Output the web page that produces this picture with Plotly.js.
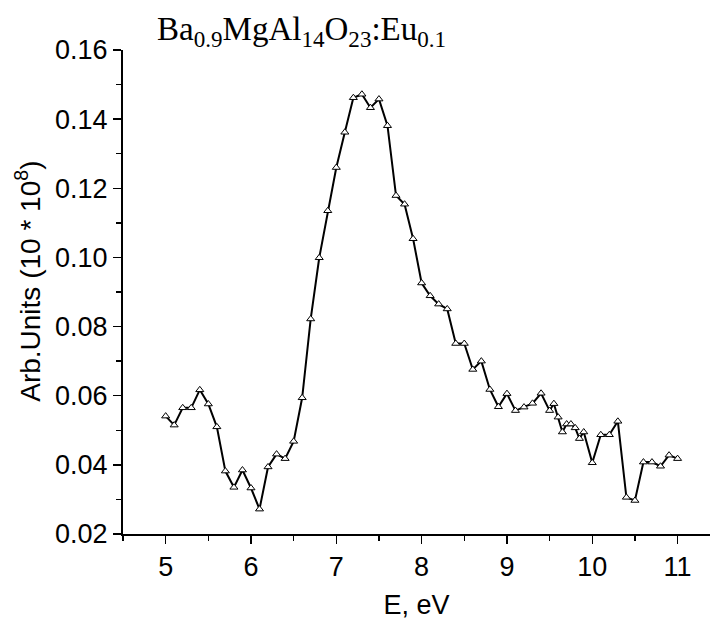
<!DOCTYPE html>
<html>
<head>
<meta charset="utf-8">
<script src="https://cdn.plot.ly/plotly-3.0.1.min.js"></script>
<style>
html,body{margin:0;padding:0;background:#ffffff;}
#chart{width:710px;height:626px;}
</style>
</head>
<body>
<div id="chart"></div>
<script>
// Photon energy (eV)
const energy = [
  5.0, 5.1, 5.2, 5.3, 5.4, 5.5, 5.6, 5.7, 5.8, 5.9,
  6.0, 6.1, 6.2, 6.3, 6.4, 6.5, 6.6, 6.7, 6.8, 6.9,
  7.0, 7.1, 7.2, 7.3, 7.4, 7.5, 7.6, 7.7, 7.8, 7.9,
  8.0, 8.1, 8.2, 8.3, 8.4, 8.5, 8.6, 8.7, 8.8, 8.9,
  9.0, 9.1, 9.2, 9.3, 9.4, 9.5, 9.55, 9.6, 9.65, 9.7,
  9.75, 9.8, 9.85, 9.9, 10.0, 10.1, 10.2, 10.3, 10.4, 10.5,
  10.6, 10.7, 10.8, 10.9, 11.0
];
// Intensity, arb. units (10 * 10^8)
const intensity = [
  0.0541, 0.0515, 0.0565, 0.0565, 0.0617, 0.0576, 0.0510, 0.0382, 0.0335, 0.0385,
  0.0333, 0.0272, 0.0394, 0.0431, 0.0418, 0.0468, 0.0594, 0.0822, 0.0999, 0.1135,
  0.1260, 0.1362, 0.1462, 0.1472, 0.1433, 0.1458, 0.1381, 0.1179, 0.1154, 0.1054,
  0.0926, 0.0889, 0.0865, 0.0851, 0.0751, 0.0751, 0.0676, 0.0700, 0.0618, 0.0568,
  0.0606, 0.0557, 0.0567, 0.0578, 0.0607, 0.0557, 0.0577, 0.0538, 0.0495, 0.0518,
  0.0518, 0.0507, 0.0476, 0.0495, 0.0406, 0.0487, 0.0487, 0.0526, 0.0306, 0.0297,
  0.0408, 0.0408, 0.0396, 0.0428, 0.0418
];
const xTickVals = [5, 6, 7, 8, 9, 10, 11];
const yTickVals = [0.02, 0.04, 0.06, 0.08, 0.10, 0.12, 0.14, 0.16];
const chartTitle = 'Ba<sub>0.9</sub>MgAl<sub>14</sub>O<sub>23</sub>:Eu<sub>0.1</sub>';
const xTitle = 'E, eV';
const yTitle = 'Arb.Units (10 * 10<sup>8</sup>)';

const trace = {
  x: energy,
  y: intensity,
  type: 'scatter',
  mode: 'lines+markers',
  line: {color: '#000000', width: 2},
  marker: {symbol: 'triangle-up', size: 7, color: '#ffffff', line: {color: '#000000', width: 1}},
  hoverinfo: 'x+y'
};

const axisFont = {family: 'Liberation Sans, Arial, sans-serif', size: 27, color: '#000000'};
const yTitleFont = {family: 'Liberation Sans, Arial, sans-serif', size: 28, color: '#000000'};

const layout = {
  width: 710,
  height: 626,
  margin: {l: 123, r: 0, t: 50, b: 92, pad: 0},
  paper_bgcolor: '#ffffff',
  plot_bgcolor: '#ffffff',
  showlegend: false,
  title: {
    text: chartTitle,
    font: {family: 'Liberation Serif, Times New Roman, serif', size: 33, color: '#000000'},
    xref: 'paper', x: 0.058, xanchor: 'left',
    yref: 'container', y: 0.955, yanchor: 'middle'
  },
  xaxis: {
    range: [4.5, 11.38],
    tickvals: xTickVals,
    ticktext: xTickVals.map(String),
    ticks: 'outside', ticklen: 8, tickwidth: 1.5, tickcolor: '#000000',
    minor: {dtick: 0.5, tick0: 0, ticks: 'outside', ticklen: 5, tickwidth: 1.5, tickcolor: '#000000'},
    showline: true, linecolor: '#000000', linewidth: 2, mirror: false,
    showgrid: false, zeroline: false, automargin: false,
    tickfont: axisFont,
    title: {text: xTitle, font: axisFont, standoff: 14}
  },
  yaxis: {
    range: [0.02, 0.16],
    tickvals: yTickVals,
    ticktext: yTickVals.map(v => v.toFixed(2)),
    ticks: 'outside', ticklen: 8, tickwidth: 1.5, tickcolor: '#000000',
    minor: {dtick: 0.01, tick0: 0, ticks: 'outside', ticklen: 5, tickwidth: 1.5, tickcolor: '#000000'},
    showline: true, linecolor: '#000000', linewidth: 2, mirror: false,
    showgrid: false, zeroline: false, automargin: false,
    tickfont: axisFont
  },
  annotations: [{
    text: yTitle,
    font: yTitleFont,
    textangle: -90,
    showarrow: false,
    xref: 'paper', yref: 'paper',
    x: -0.162, y: 0.523,
    xanchor: 'center', yanchor: 'middle'
  }]
};

Plotly.newPlot('chart', [trace], layout, {staticPlot: true, displayModeBar: false});
</script>
</body>
</html>
